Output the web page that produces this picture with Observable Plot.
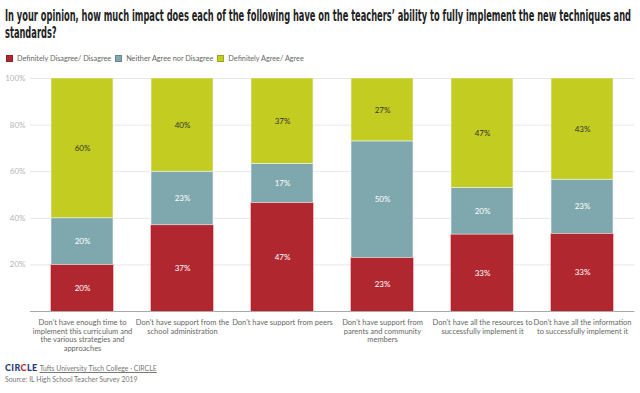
<!DOCTYPE html>
<html>
<head>
<meta charset="utf-8">
<script src="https://cdn.jsdelivr.net/npm/d3@7"></script>
<script src="https://cdn.jsdelivr.net/npm/@observablehq/plot@0.6"></script>
<style>
  html, body { margin: 0; padding: 0; background: #fff; }
  #wrap { position: relative; width: 640px; height: 393px; overflow: hidden; font-family: Lato, "Open Sans", sans-serif; }
  #title { position: absolute; left: 5px; top: 8px; font-family: "Liberation Sans Narrow", "DejaVu Sans Condensed", sans-serif; font-weight: bold; font-size: 15.5px; line-height: 16.5px; color: #222; white-space: nowrap; transform-origin: 0 0; }
  #legend { position: absolute; left: 6px; top: 54px; font-size: 7.3px; color: #666; white-space: nowrap; line-height: 9px; }
  #legend .item { display: inline-flex; align-items: center; margin-right: 4px; }
  #legend .sw { display: inline-block; width: 7px; height: 7px; margin-right: 4px; box-sizing: border-box; }
  #chart { position: absolute; left: 0; top: 68px; }
  #footer { position: absolute; left: 5px; top: 362px; font-size: 6.9px; color: #777; line-height: 11px; }
  #footer .logo { font-weight: 900; color: #1f3b78; font-size: 9px; letter-spacing: 0.4px; margin-right: 2px; }
  #footer .logo .c2 { color: #c2272d; }
  #footer a { color: #777; text-decoration: underline; }
</style>
</head>
<body>
<div id="wrap">
  <div id="title"><span id="t1">In your opinion, how much impact does each of the following have on the teachers’ ability to fully implement the new techniques and</span><br><span>standards?</span></div>
  <div id="legend"></div>
  <div id="chart"></div>
  <div id="footer">
    <div><span class="logo">CIR<span class="c2">C</span>LE</span><a>Tufts University Tisch College · CIRCLE</a></div>
    <div>Source: IL High School Teacher Survey 2019</div>
  </div>
</div>
<script>
const categories = [
  "Don't have enough time to\nimplement this curriculum and\nthe various strategies and\napproaches",
  "Don't have support from the\nschool administration",
  "Don't have support from peers",
  "Don't have support from\nparents and community\nmembers",
  "Don't have all the resources to\nsuccessfully implement it",
  "Don't have all the information\nto successfully implement it"
];
const seriesNames = ["Definitely Disagree/ Disagree", "Neither Agree nor Disagree", "Definitely Agree/ Agree"];
const seriesColors = ["#b0272f", "#7fa7ae", "#c3cd21"];
const disagree = [20, 37, 47, 23, 33, 33];
const neither  = [20, 23, 17, 50, 20, 23];
const agree    = [60, 40, 37, 27, 47, 43];
const yTicks = [0.2, 0.4, 0.6, 0.8, 1.0];

// title scaling to match condensed headline
const titleEl = document.getElementById("title");
const w1 = document.getElementById("t1").getBoundingClientRect().width;
titleEl.style.transform = `scaleX(${626 / w1})`;

// legend
const legend = document.getElementById("legend");
seriesNames.forEach((s, i) => {
  const it = document.createElement("span");
  it.className = "item";
  const sw = document.createElement("span");
  sw.className = "sw";
  sw.style.background = seriesColors[i];
  sw.style.border = "1px solid " + d3.color(seriesColors[i]).darker(0.6);
  it.appendChild(sw);
  it.appendChild(document.createTextNode(s));
  legend.appendChild(it);
});

const series = [disagree, neither, agree];
const data = [];
series.forEach((vals, si) => {
  vals.forEach((v, ci) => data.push({cat: categories[ci], series: seriesNames[si], value: v}));
});

const chart = Plot.plot({
  width: 640,
  height: 290,
  marginTop: 10,
  marginBottom: 47,
  marginLeft: 30,
  marginRight: 5.6,
  style: {fontFamily: "Lato, 'Open Sans', sans-serif", background: "#fff"},
  x: {domain: categories, paddingInner: 0.385, paddingOuter: 0.1925, label: null},
  y: {domain: [0, 1], label: null},
  color: {domain: seriesNames, range: seriesColors},
  marks: [
    Plot.gridY(yTicks, {stroke: "#e8e8e8", strokeOpacity: 1}),
    Plot.axisY({ticks: yTicks, tickFormat: d => Math.round(d * 100) + "%", tickSize: 0, tickPadding: 5, fill: "#b5b5b5", fontSize: 8, label: null}),
    Plot.barY(data, Plot.stackY({offset: "normalize", x: "cat", y: "value", fill: "series", stroke: d => d.series === seriesNames[0] ? "#c41a24" : "#f2f2f2", strokeWidth: 0.6})),
    Plot.text(data, Plot.stackY({offset: "normalize", x: "cat", y: "value",
      text: d => d.value + "%",
      fill: d => d.series === seriesNames[2] ? "#333" : "#fff",
      fontSize: 8})),
    Plot.ruleY([0], {stroke: "#aaa", strokeWidth: 1}),
    Plot.axisX({tickSize: 0, tickPadding: 7, fill: "#666", fontSize: 7.5, lineHeight: 1.17, label: null})
  ]
});
document.getElementById("chart").appendChild(chart);
</script>
</body>
</html>
